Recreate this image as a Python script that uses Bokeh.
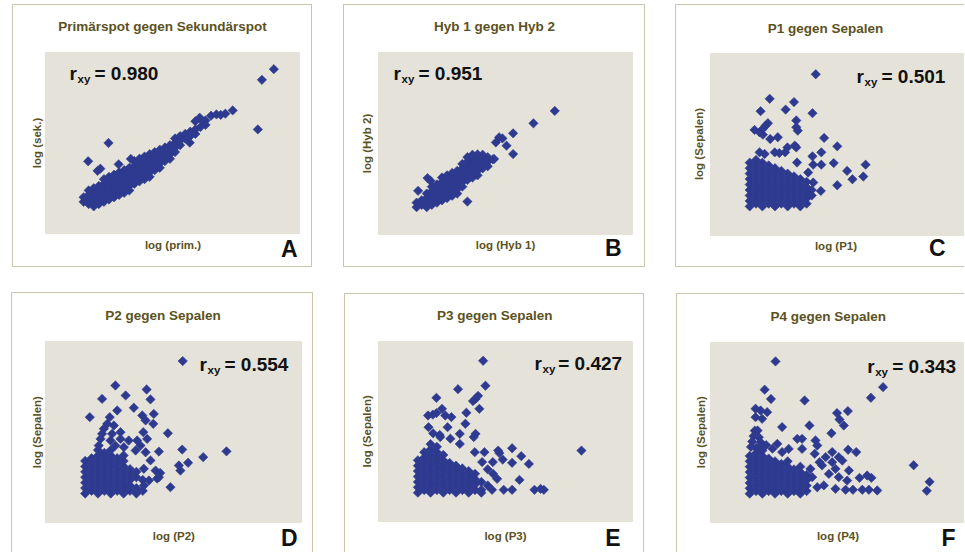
import math
from bokeh.plotting import figure
from bokeh.models import Range1d, Label, BoxAnnotation
from bokeh.layouts import row, column
from bokeh.embed import file_html
from bokeh.resources import INLINE

# ---------------- data ----------------
panel_titles = ["Primärspot gegen Sekundärspot", "Hyb 1 gegen Hyb 2", "P1 gegen Sepalen",
                "P2 gegen Sepalen", "P3 gegen Sepalen", "P4 gegen Sepalen"]
x_labels = ["log (prim.)", "log (Hyb 1)", "log (P1)", "log (P2)", "log (P3)", "log (P4)"]
y_labels = ["log (sek.)", "log (Hyb 2)", "log (Sepalen)", "log (Sepalen)", "log (Sepalen)", "log (Sepalen)"]
r_values = ["0.980", "0.951", "0.501", "0.554", "0.427", "0.343"]
panel_letters = ["A", "B", "C", "D", "E", "F"]

# isolated points (x, y) (axes are unlabelled log scales, 0..10 here)
outliers_A = [(8.99, 9.08), (8.52, 8.49), (8.36, 5.75), (2.48, 5.00), (1.68, 3.99), (2.05, 3.46),
              (2.16, 3.58), (2.88, 3.82), (3.36, 4.12), (5.68, 5.02), (7.37, 6.80), (7.08, 6.62),
              (6.73, 6.58), (6.52, 6.51), (6.07, 6.40), (6.23, 6.16), (6.9, 6.55), (5.9, 6.2)]
# dense cloud, one column per entry: (x, y1, y2, ...)
cluster_A = [(1.5, 1.75, 2.0), (1.7, 1.63, 1.88, 2.13, 2.38), (1.9, 1.5, 1.75, 2.0, 2.25, 2.5),
             (2.1, 1.63, 1.88, 2.13, 2.38, 2.63), (2.3, 1.75, 2.0, 2.25, 2.5, 2.75, 3.0),
             (2.5, 1.88, 2.13, 2.38, 2.63, 2.88, 3.13), (2.7, 2.0, 2.25, 2.5, 2.75, 3.0, 3.25),
             (2.9, 2.13, 2.38, 2.63, 2.88, 3.13, 3.38), (3.1, 2.25, 2.5, 2.75, 3.0, 3.25, 3.5),
             (3.3, 2.38, 2.63, 2.88, 3.13, 3.38, 3.63), (3.5, 2.75, 3.0, 3.25, 3.5, 3.75, 4.0),
             (3.7, 2.88, 3.13, 3.38, 3.63, 3.88, 4.13), (3.9, 3.0, 3.25, 3.5, 3.75, 4.0, 4.25),
             (4.1, 3.13, 3.38, 3.63, 3.88, 4.13, 4.38), (4.3, 3.5, 3.75, 4.0, 4.25, 4.5),
             (4.5, 3.63, 3.88, 4.13, 4.38, 4.63), (4.7, 4.0, 4.25, 4.5, 4.75),
             (4.9, 4.13, 4.38, 4.63, 4.88), (5.1, 4.5, 4.75, 5.0, 5.25), (5.3, 4.88, 5.13, 5.38),
             (5.5, 5.25, 5.5), (5.7, 5.38, 5.63), (5.9, 5.5, 5.75), (6.1, 5.88), (6.3, 6.0, 6.25)]

outliers_B = [(6.94, 6.79), (6.10, 6.11), (5.30, 5.56), (5.30, 4.42), (5.04, 4.88), (4.62, 5.06),
              (4.75, 5.34), (4.88, 5.28), (3.50, 1.81), (1.93, 3.10), (2.05, 2.95), (1.56, 2.40),
              (4.55, 4.15)]
cluster_B = [(1.5, 1.5, 1.75), (1.7, 1.63, 1.88), (1.9, 1.5, 1.75, 2.0, 2.25),
             (2.1, 1.63, 1.88, 2.13, 2.38, 2.63), (2.3, 1.75, 2.0, 2.25, 2.5, 2.75),
             (2.5, 1.88, 2.13, 2.38, 2.63, 2.88, 3.13), (2.7, 2.0, 2.25, 2.5, 2.75, 3.0, 3.25),
             (2.9, 2.13, 2.38, 2.63, 2.88, 3.13, 3.38), (3.1, 2.25, 2.5, 2.75, 3.0, 3.25, 3.5),
             (3.3, 2.63, 2.88, 3.13, 3.38, 3.63, 3.88), (3.5, 3.0, 3.25, 3.5, 3.75, 4.0, 4.25),
             (3.7, 3.13, 3.38, 3.63, 3.88, 4.13, 4.38), (3.9, 3.25, 3.5, 3.75, 4.0, 4.25, 4.4),
             (4.1, 3.63, 3.88, 4.13, 4.38), (4.3, 3.75, 4.0, 4.25), (4.5, 4.13)]

outliers_C = [(4.16, 8.86), (2.34, 7.51), (1.98, 6.83), (2.97, 6.92), (3.30, 7.33), (4.03, 6.72),
              (2.27, 6.17), (2.18, 6.04), (1.74, 5.80), (1.94, 5.67), (2.07, 5.86), (2.07, 5.54),
              (2.36, 5.30), (2.66, 5.40), (3.39, 6.32), (3.39, 5.95), (3.45, 5.76), (3.33, 4.94),
              (3.39, 4.84), (3.04, 4.84), (2.95, 4.57), (2.72, 4.53), (2.54, 4.57), (1.94, 4.57),
              (2.14, 4.48), (4.49, 5.36), (5.01, 4.90), (4.38, 4.57), (4.03, 4.35), (4.38, 3.89),
              (4.06, 3.89), (3.42, 4.01), (4.87, 3.98), (5.40, 3.55), (5.61, 3.09), (6.13, 3.89),
              (6.04, 3.24), (5.01, 2.76), (4.36, 2.45), (4.06, 2.91), (3.86, 3.46)]
cluster_C = [(1.55, 1.6, 1.9, 2.2, 2.5, 2.8, 3.1, 3.4, 3.7, 4.0),
             (1.8, 1.75, 2.05, 2.35, 2.65, 2.95, 3.25, 3.55, 3.85, 4.15),
             (2.05, 1.6, 1.9, 2.2, 2.5, 2.8, 3.1, 3.4, 3.7, 4.0),
             (2.3, 1.75, 2.05, 2.35, 2.65, 2.95, 3.25, 3.55, 3.85),
             (2.55, 1.6, 1.9, 2.2, 2.5, 2.8, 3.1, 3.4, 3.7),
             (2.8, 1.75, 2.05, 2.35, 2.65, 2.95, 3.25, 3.55),
             (3.05, 1.6, 1.9, 2.2, 2.5, 2.8, 3.1, 3.4),
             (3.3, 1.75, 2.05, 2.35, 2.65, 2.95, 3.25),
             (3.55, 1.6, 1.9, 2.2, 2.5, 2.8, 3.1),
             (3.8, 1.75, 2.05, 2.35, 2.65, 2.95), (4.0, 2.2, 2.5)]

outliers_D = [(5.36, 8.92), (2.73, 7.57), (2.21, 6.83), (3.13, 7.02), (3.95, 7.35), (4.10, 6.80),
              (1.73, 5.82), (2.80, 6.19), (2.51, 5.82), (2.41, 5.45), (3.45, 6.34), (3.78, 5.91),
              (4.23, 6.00), (4.21, 5.45), (3.91, 5.64), (2.67, 5.36), (2.28, 5.18), (2.21, 4.90),
              (2.60, 4.90), (2.93, 4.99), (3.82, 4.99), (4.78, 4.93), (2.15, 4.62), (2.54, 4.53),
              (2.93, 4.62), (3.25, 4.53), (3.58, 4.53), (3.97, 4.62), (3.71, 4.25), (2.08, 4.25),
              (2.73, 4.25), (3.06, 4.16), (3.52, 3.98), (3.91, 3.88), (4.43, 3.92), (5.34, 4.03),
              (6.16, 3.61), (7.07, 3.93), (5.57, 3.30), (5.21, 3.15), (5.27, 2.87), (4.88, 1.95),
              (4.10, 3.43), (4.43, 2.50), (4.30, 2.87), (3.84, 2.97), (4.04, 2.32), (3.84, 2.04),
              (3.19, 1.86), (4.36, 2.43), (4.48, 2.74)]
cluster_D = [(1.55, 1.6, 1.9, 2.2, 2.5, 2.8, 3.1, 3.4),
             (1.8, 1.75, 2.05, 2.35, 2.65, 2.95, 3.25, 3.55),
             (2.05, 1.6, 1.9, 2.2, 2.5, 2.8, 3.1, 3.4, 3.7, 4.0),
             (2.3, 1.75, 2.05, 2.35, 2.65, 2.95, 3.25, 3.55, 3.85),
             (2.55, 1.6, 1.9, 2.2, 2.5, 2.8, 3.1, 3.4, 3.7, 4.0),
             (2.8, 1.75, 2.05, 2.35, 2.65, 2.95, 3.25, 3.55),
             (3.05, 1.6, 1.9, 2.2, 2.5, 2.8, 3.1, 3.4, 3.7),
             (3.3, 1.75, 2.05, 2.35, 2.65, 2.95),
             (3.55, 1.6, 1.9, 2.5, 2.8), (3.8, 1.75, 2.35)]

outliers_E = [(4.12, 8.93), (4.21, 7.54), (3.13, 7.35), (2.28, 6.87), (3.82, 6.81), (3.72, 6.69),
              (3.92, 6.98), (2.50, 6.26), (1.95, 5.89), (2.14, 5.94), (2.28, 6.02), (2.63, 5.89),
              (2.87, 5.80), (3.46, 6.04), (3.97, 6.26), (3.42, 5.43), (1.97, 5.24), (2.72, 5.24),
              (2.41, 4.81), (3.20, 4.87), (3.82, 4.87), (3.75, 4.69), (3.20, 4.31), (7.99, 3.94),
              (5.26, 4.07), (4.71, 3.94), (4.76, 3.80), (4.89, 3.44), (5.62, 3.63), (5.92, 3.20),
              (5.26, 3.26), (4.50, 3.30), (4.51, 2.65), (5.55, 2.31), (4.67, 2.37), (4.17, 3.85),
              (4.08, 3.30), (3.79, 3.85), (6.14, 1.76), (6.38, 1.81), (6.51, 1.76), (4.47, 1.76),
              (4.93, 1.76), (5.26, 1.76), (4.05, 1.76), (3.68, 2.28), (2.43, 4.69), (2.83, 4.60),
              (2.15, 4.90), (4.30, 2.00), (4.30, 2.90)]
cluster_E = [(1.55, 1.6, 1.9, 2.2, 2.5, 2.8, 3.1, 3.4),
             (1.8, 1.75, 2.05, 2.35, 2.65, 2.95, 3.25, 3.55, 3.85),
             (2.05, 1.6, 1.9, 2.2, 2.5, 2.8, 3.1, 3.4, 3.7, 4.0, 4.3),
             (2.3, 1.75, 2.05, 2.35, 2.65, 2.95, 3.25, 3.55, 3.85, 4.15),
             (2.55, 1.6, 1.9, 2.2, 2.5, 2.8, 3.1, 3.4, 3.7),
             (2.8, 1.75, 2.05, 2.35, 2.65, 2.95, 3.25),
             (3.05, 1.6, 1.9, 2.2, 2.5, 2.8, 3.1),
             (3.3, 1.75, 2.05, 2.35, 2.65, 2.95),
             (3.55, 1.6, 1.9, 2.2, 2.5, 2.8), (3.8, 1.75, 2.05, 2.35, 2.65), (4.05, 1.6, 2.2)]

outliers_F = [(2.57, 8.95), (6.82, 7.52), (6.34, 6.93), (2.14, 7.38), (2.39, 6.86), (3.72, 6.78),
              (5.43, 6.19), (5.00, 6.08), (5.10, 5.72), (5.27, 5.39), (1.78, 6.32), (1.98, 6.22),
              (2.24, 6.13), (1.78, 5.85), (2.04, 5.76), (2.83, 5.30), (3.91, 5.39), (4.78, 4.96),
              (1.86, 5.11), (1.91, 4.74), (1.98, 4.46), (2.64, 4.37), (3.43, 4.65), (3.62, 4.65),
              (4.15, 4.56), (4.22, 4.28), (3.09, 4.09), (3.62, 4.09), (2.83, 3.91), (4.12, 3.82),
              (4.81, 3.91), (5.44, 4.04), (5.76, 3.91), (4.55, 3.63), (5.07, 3.63), (4.81, 3.35),
              (5.21, 3.44), (4.41, 3.17), (4.94, 2.98), (5.47, 2.89), (4.68, 2.70), (5.07, 2.52),
              (5.40, 2.33), (5.89, 2.48), (6.19, 2.61), (6.36, 2.48), (4.48, 2.06), (4.94, 1.87),
              (5.34, 1.82), (5.63, 1.82), (6.00, 1.82), (6.26, 1.82), (6.59, 1.78), (4.22, 1.96),
              (4.02, 2.52), (3.95, 2.98), (4.31, 3.35), (8.03, 3.18), (8.66, 2.26), (8.55, 1.76),
              (1.65, 4.50), (1.70, 4.80), (1.75, 5.10), (2.20, 4.30), (2.45, 4.10), (1.60, 4.20),
              (1.95, 4.20)]
cluster_F = [(1.55, 1.6, 1.9, 2.2, 2.5, 2.8, 3.1, 3.4, 3.7),
             (1.8, 1.75, 2.05, 2.35, 2.65, 2.95, 3.25, 3.55, 3.85, 4.15),
             (2.05, 1.6, 1.9, 2.2, 2.5, 2.8, 3.1, 3.4, 3.7, 4.0),
             (2.3, 1.75, 2.05, 2.35, 2.65, 2.95, 3.25, 3.55),
             (2.55, 1.6, 1.9, 2.2, 2.5, 2.8, 3.1, 3.4),
             (2.8, 1.75, 2.05, 2.35, 2.65, 2.95, 3.25),
             (3.05, 1.6, 1.9, 2.2, 2.5, 2.8, 3.1, 3.4),
             (3.3, 1.75, 2.05, 2.35, 2.65, 2.95),
             (3.55, 1.6, 1.9, 2.2, 2.5, 2.8, 3.1), (3.8, 1.75, 2.05, 2.35, 2.65)]

panel_outliers = [outliers_A, outliers_B, outliers_C, outliers_D, outliers_E, outliers_F]
panel_clusters = [cluster_A, cluster_B, cluster_C, cluster_D, cluster_E, cluster_F]

# ---------------- styles / geometry (pixels, relative to each panel box) ----------------
OLIVE = "#5b5222"
BOX = "#c9c6ad"
FONT = "Liberation Sans"
# W,H: panel box size; gl,gr,gt,gb: grey plot area edges; m: css margin (top,right,bottom,left)
# t: title centre, yl: y-label centre, xl: x-label centre, let: letter (right edge, centre y)
# r: start of "r" and centre y of the r_xy text, eq: offset of "= value"
geom = [
    dict(W=300, H=263, gl=33, gr=287, gt=48, gb=229, m=(4, 0, 0, 12),
         shadow=f"inset 0 0 0 1px {BOX}", t=(150, 22.2), yl=(24, 138.5), xl=(160.5, 240.5),
         let=(285, 244.5), r=(57, 68.7), eq=25),
    dict(W=302, H=263, gl=35, gr=289, gt=48, gb=230, m=(4, 0, 0, 31),
         shadow=f"inset 0 0 0 1px {BOX}", t=(151, 22), yl=(23.7, 139), xl=(162, 240.7),
         let=(278, 243), r=(50, 69), eq=25),
    dict(W=289, H=263, gl=35, gr=288, gt=49, gb=231, m=(4, 0, 0, 30),
         shadow=f"inset 1px 1px 0 0 {BOX}, inset 0 -1px 0 0 {BOX}", t=(150, 23.5), yl=(23.3, 139.5),
         xl=(160.5, 241.8), let=(270, 243), r=(181, 71.8), eq=25),
    dict(W=302, H=260, gl=34, gr=290, gt=49, gb=230, m=(25, 0, 0, 11),
         shadow=f"inset 1px 1px 0 0 {BOX}, inset -1px 0 0 0 {BOX}", t=(151.5, 22.7), yl=(25.7, 139.7),
         xl=(162.3, 243), let=(286, 245.5), r=(188, 71.8), eq=25),
    dict(W=300, H=259, gl=34, gr=288, gt=48, gb=228, m=(26, 0, 0, 31),
         shadow=f"inset 1px 1px 0 0 {BOX}, inset -1px 0 0 0 {BOX}", t=(150.3, 21.7), yl=(22, 137.8),
         xl=(161, 242.3), let=(276, 244.5), r=(190, 70.3), eq=23.7),
    dict(W=288, H=259, gl=34, gr=287, gt=49, gb=229, m=(26, 0, 0, 32),
         shadow=f"inset 1px 1px 0 0 {BOX}", t=(151.7, 23.2), yl=(24, 138.7),
         xl=(161.5, 242.3), let=(279, 244.5), r=(190.7, 73.2), eq=25),
]


def make_panel(i):
    g = geom[i]
    W, H = g["W"], g["H"]
    sx = (g["gr"] - g["gl"]) / 10.0
    sy = (g["gb"] - g["gt"]) / 10.0
    p = figure(width=W, height=H,
               x_range=Range1d(-g["gl"] / sx, (W - g["gl"]) / sx),
               y_range=Range1d(-(H - g["gb"]) / sy, 10 + g["gt"] / sy),
               x_axis_location=None, y_axis_location=None,
               toolbar_location=None, output_backend="svg", min_border=0,
               background_fill_color=None, border_fill_color=None, outline_line_color=None,
               margin=g["m"], styles={"box-shadow": g["shadow"]})
    p.grid.visible = False

    # grey plot area spanning the data range 0..10
    p.add_layout(BoxAnnotation(left=0, right=10, bottom=0, top=10, level="underlay",
                               fill_color="#e5e3d9", fill_alpha=1.0,
                               line_color="#c3bfa4", line_width=1))

    xs, ys = [], []
    for col in panel_clusters[i]:
        for yv in col[1:]:
            xs.append(col[0])
            ys.append(yv)
    for (xv, yv) in panel_outliers[i]:
        xs.append(xv)
        ys.append(yv)
    p.scatter(xs, ys, marker="square", size=6.6, angle=math.pi / 4,
              fill_color="#2e3a8f", line_color="#2e3a8f", line_width=0.6)

    def lab(x, y_top, text, size, color="#111111", align="left", angle=0.0):
        p.add_layout(Label(x=x, y=H - y_top, x_units="screen", y_units="screen", text=text,
                           text_font=FONT, text_font_style="bold", text_font_size=size,
                           text_color=color, text_align=align, text_baseline="middle",
                           angle=angle))

    lab(g["t"][0], g["t"][1], panel_titles[i], "13.5px", OLIVE, "center")
    lab(g["xl"][0], g["xl"][1], x_labels[i], "11.5px", OLIVE, "center")
    lab(g["yl"][0], g["yl"][1], y_labels[i], "11.5px", OLIVE, "center", math.pi / 2)
    rx, ry = g["r"]
    lab(rx, ry, "r", "19px")
    lab(rx + 8, ry + 5.3, "xy", "11.5px")
    lab(rx + g["eq"], ry, "= " + r_values[i], "19px")
    lab(g["let"][0], g["let"][1], panel_letters[i], "23px", "#111111", "right")
    return p


panels = [make_panel(i) for i in range(6)]
layout = column(row(panels[0], panels[1], panels[2]), row(panels[3], panels[4], panels[5]))

open("out.html", "w").write(file_html(layout, INLINE))
